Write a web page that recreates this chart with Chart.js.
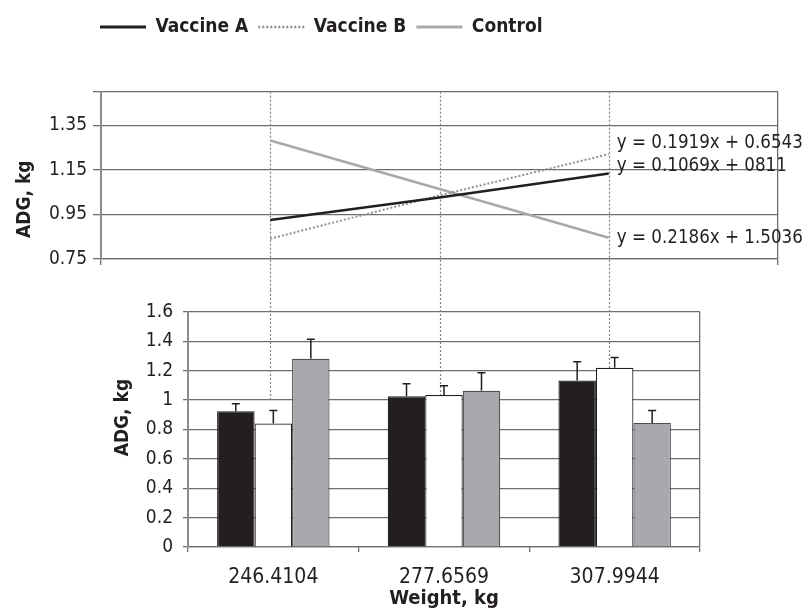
<!DOCTYPE html>
<html>
<head>
<meta charset="utf-8">
<script src="https://cdn.jsdelivr.net/npm/chart.js@4"></script>
<style>
  body { margin: 0; background: #fff; }
  #wrap { position: relative; width: 806px; height: 611px; }
  canvas { position: absolute; left: 0; }
</style>
</head>
<body>
<div id="wrap">
  <canvas id="trend_chart" width="806" height="290" style="top:0"></canvas>
  <canvas id="bar_chart" width="806" height="321" style="top:290px"></canvas>
</div>
<script>
const weights = ['246.4104', '277.6569', '307.9944'];
const vaccineA = [0.925, 1.026, 1.133];
const vaccineB = [0.841, 1.035, 1.22];
const control = [1.281, 1.064, 0.845];
const errA = [0.05, 0.085, 0.128];
const errB = [0.088, 0.063, 0.07];
const errC = [0.134, 0.123, 0.084];
const equations = ['y = 0.1069x + 0811', 'y = 0.1919x + 0.6543', 'y = 0.2186x + 1.5036'];
const trendTicks = [0.75, 0.95, 1.15, 1.35];
const trendMax = 1.5;
const barTicks = ['0', '0.2', '0.4', '0.6', '0.8', '1', '1.2', '1.4', '1.6'];
const dropTo = 1.0;

const INK = '#231f20';
const GRID = '#6d6e71';
const regular = "'DejaVu Sans Condensed', 'DejaVu Sans', sans-serif";
const bold = "'DejaVu Sans Condensed', 'DejaVu Sans', sans-serif";
const eqShift = [-7, -11, 0];

let trendChart = null;

// dotted drop lines at the three weights, x taken from the trend chart's scale
function dropLines(chart, xScale, yFrom, yTo) {
  const ctx = chart.ctx;
  ctx.save();
  ctx.strokeStyle = '#808080';
  ctx.lineWidth = 1.2;
  ctx.setLineDash([2, 2]);
  for (let i = 1; i <= weights.length; i++) {
    const px = Math.round(xScale.getPixelForValue(i)) + 0.5;
    ctx.beginPath();
    ctx.moveTo(px, yFrom);
    ctx.lineTo(px, yTo);
    ctx.stroke();
  }
  ctx.restore();
}

const trendExtras = {
  id: 'trendExtras',
  beforeInit(chart) {
    const fit = chart.legend.fit;
    chart.legend.fit = function () {
      fit.call(this);
      this.height = 84.2;
    };
  },
  afterLayout(chart) {
    chart.legend.left = 90;
  },
  beforeDatasetsDraw(chart) {
    dropLines(chart, chart.scales.x, chart.chartArea.top, chart.height);
  },
  afterDatasetsDraw(chart) {
    const ctx = chart.ctx;
    ctx.save();
    ctx.font = '18.6px ' + regular;
    ctx.fillStyle = INK;
    ctx.textAlign = 'left';
    ctx.textBaseline = 'middle';
    chart.data.datasets.forEach((ds, d) => {
      const pt = chart.getDatasetMeta(d).data[weights.length];
      ctx.fillText(equations[d], pt.x + 8, pt.y + eqShift[d]);
    });
    ctx.restore();
  }
};

trendChart = new Chart(document.getElementById('trend_chart'), {
  type: 'line',
  data: {
    labels: ['', ...weights, ''],
    datasets: [
      { label: 'Vaccine A', data: [null, ...vaccineA, null], borderColor: INK, backgroundColor: INK, borderWidth: 2.5, pointRadius: 0 },
      { label: 'Vaccine B', data: [null, ...vaccineB, null], borderColor: '#8f9194', backgroundColor: '#8f9194', borderWidth: 2, borderDash: [2, 2], pointRadius: 0 },
      { label: 'Control', data: [null, ...control, null], borderColor: '#a7a9ac', backgroundColor: '#a7a9ac', borderWidth: 2.5, pointRadius: 0 }
    ]
  },
  options: {
    responsive: false,
    animation: false,
    layout: { padding: { left: 0, right: 28, top: 7.5, bottom: 0 } },
    plugins: {
      tooltip: { enabled: false },
      legend: {
        position: 'top',
        align: 'start',
        labels: {
          usePointStyle: true,
          pointStyle: 'line',
          pointStyleWidth: 46,
          padding: 10,
          color: INK,
          font: { family: bold, size: 19, weight: 'bold' },
          generateLabels(chart) {
            const items = Chart.defaults.plugins.legend.labels.generateLabels(chart);
            items.forEach(it => {
              const ds = chart.data.datasets[it.datasetIndex];
              it.lineDash = ds.borderDash || [];
              it.lineWidth = ds.borderWidth + 0.5;
              it.strokeStyle = ds.borderColor;
            });
            return items;
          }
        }
      }
    },
    scales: {
      x: {
        offset: false,
        ticks: { display: false },
        grid: {
          offset: false,
          lineWidth: 1.3,
          tickLength: 6,
          color: (c) => (c.index === 0 || c.index === weights.length + 1) ? GRID : 'rgba(0,0,0,0)'
        },
        border: { color: GRID, width: 1.3 },
        afterFit(s) { s.height = 31; }
      },
      y: {
        min: 0.75,
        max: trendMax,
        afterBuildTicks(s) { s.ticks = [...trendTicks, trendMax].map(v => ({ value: v })); },
        afterFit(s) { s.width = 101; },
        ticks: {
          callback: (v) => trendTicks.includes(v) ? v.toFixed(2) : '',
          color: INK,
          padding: 6,
          font: { family: regular, size: 19 }
        },
        grid: { color: GRID, lineWidth: 1.3, tickLength: 8 },
        border: { color: '#8a8c8e', width: 2 },
        title: {
          display: true,
          text: 'ADG, kg        ',
          color: INK,
          padding: { top: 14, bottom: 0 },
          font: { family: bold, size: 19, weight: 'bold' }
        }
      }
    }
  },
  plugins: [trendExtras]
});

const barExtras = {
  id: 'barExtras',
  beforeDatasetsDraw(chart) {
    dropLines(chart, trendChart.scales.x, 0, chart.scales.y.getPixelForValue(dropTo));
  },
  afterDatasetsDraw(chart) {
    const ctx = chart.ctx;
    const y = chart.scales.y;
    const errs = [errA, errB, errC];
    ctx.save();
    ctx.strokeStyle = INK;
    ctx.lineWidth = 1.5;
    chart.data.datasets.forEach((ds, d) => {
      chart.getDatasetMeta(d).data.forEach((bar, i) => {
        const top = y.getPixelForValue(ds.data[i] + errs[d][i]);
        ctx.beginPath();
        ctx.moveTo(bar.x, bar.y);
        ctx.lineTo(bar.x, top);
        ctx.moveTo(bar.x - 4, top);
        ctx.lineTo(bar.x + 4, top);
        ctx.stroke();
      });
    });
    ctx.restore();
  }
};

new Chart(document.getElementById('bar_chart'), {
  type: 'bar',
  data: {
    labels: weights,
    datasets: [
      { label: 'Vaccine A', data: vaccineA, backgroundColor: INK, borderColor: INK, borderWidth: 1.2 },
      { label: 'Vaccine B', data: vaccineB, backgroundColor: '#ffffff', borderColor: INK, borderWidth: 1.2 },
      { label: 'Control', data: control, backgroundColor: '#a7a9ac', borderColor: '#4d4d4f', borderWidth: 1.2 }
    ]
  },
  options: {
    responsive: false,
    animation: false,
    layout: { padding: { left: 90, right: 106, top: 22, bottom: 0 } },
    datasets: { bar: { barPercentage: 1, categoryPercentage: 0.659 } },
    plugins: {
      legend: { display: false },
      tooltip: { enabled: false }
    },
    scales: {
      x: {
        grid: {
          offset: true,
          lineWidth: 1.3,
          tickLength: 5,
          tickColor: GRID,
          // only the closing line on the right (it has no tick of its own)
          color: (c) => c.tick ? 'rgba(0,0,0,0)' : GRID
        },
        border: { color: GRID, width: 1.3 },
        ticks: { color: INK, padding: 13, font: { family: regular, size: 21 } },
        title: {
          display: true,
          text: 'Weight, kg',
          color: INK,
          padding: { top: 0, bottom: 0 },
          font: { family: bold, size: 20, weight: 'bold' }
        },
        afterFit(s) { s.height = 64; }
      },
      y: {
        min: 0,
        max: 1.6,
        ticks: {
          stepSize: 0.2,
          callback: (v, i) => barTicks[i],
          color: INK,
          padding: 10,
          font: { family: regular, size: 19 }
        },
        grid: { color: GRID, lineWidth: 1.3, tickLength: 5 },
        border: { color: '#8a8c8e', width: 2 },
        title: {
          display: true,
          text: '    ADG, kg',
          color: INK,
          padding: { top: 22, bottom: 0 },
          font: { family: bold, size: 19, weight: 'bold' }
        },
        afterFit(s) { s.width = 98; }
      }
    }
  },
  plugins: [barExtras]
});
</script>
</body>
</html>
